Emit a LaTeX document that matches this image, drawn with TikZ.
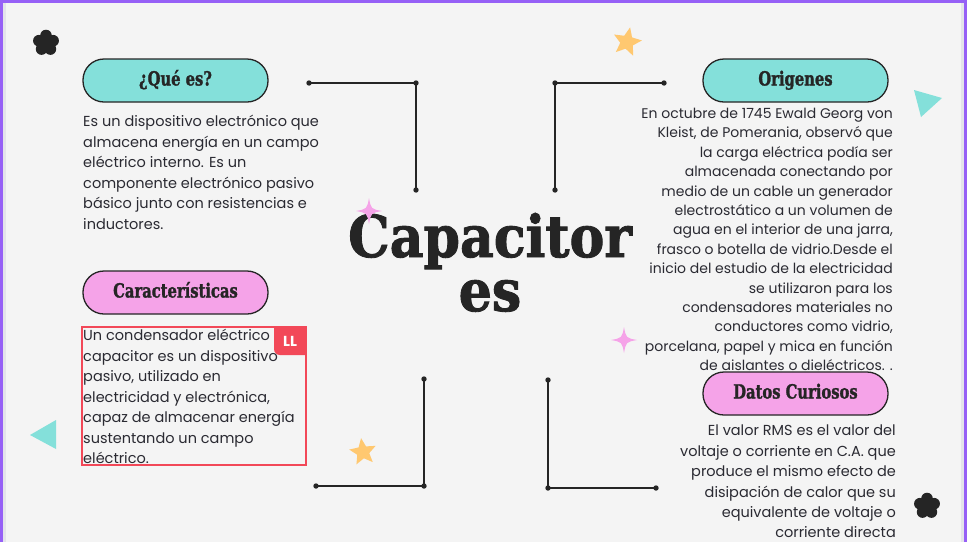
\documentclass[tikz,border=0pt]{standalone}
\usepackage{fontspec}
\setmainfont{Poppins}
\newfontfamily\headfont{DejaVu Serif Condensed}[BoldFeatures={FakeBold=1.5}]
\usetikzlibrary{positioning}
\usetikzlibrary{shapes.geometric}

\definecolor{paper}{RGB}{244,244,244}
\definecolor{frame}{RGB}{150,96,246}
\definecolor{edgegrey}{RGB}{228,228,234}
\definecolor{ink}{RGB}{37,37,37}
\definecolor{bodytext}{RGB}{42,42,50}
\definecolor{tealpill}{RGB}{132,224,218}
\definecolor{pinkpill}{RGB}{245,163,232}
\definecolor{starorange}{RGB}{255,200,112}
\definecolor{selred}{RGB}{242,72,88}

\newcommand{\pilltext}[1]{\scalebox{0.84}[1]{#1}}

\tikzset{
	pill/.style={draw=ink, line width=1.3pt, rounded corners=21pt, minimum width=185pt,
		minimum height=43pt, inner sep=0pt, text=ink, text height=14pt, text depth=4pt,
		font=\headfont\bfseries\fontsize{19.5}{19.5}\selectfont},
	bodyleft/.style={anchor=north west, inner sep=0pt, align=left, text=bodytext,
		font=\fontsize{14.5}{20.5}\selectfont},
	bodyright/.style={anchor=north east, inner sep=0pt, align=right, text=bodytext,
		font=\fontsize{14}{19.4}\selectfont},
	bracket/.style={draw=ink, line width=1.4pt},
	titletext/.style={text=ink, inner sep=0pt, anchor=base,
		font=\headfont\bfseries\fontsize{58}{58}\selectfont}
}

\begin{document}
\begin{tikzpicture}[x=1pt,y=-1pt]
\useasboundingbox (0,0) rectangle (967,542);
\fill[paper] (0,0) rectangle (967,542);
\fill[edgegrey] (3,3) rectangle (6,542);
\fill[edgegrey] (961,3) rectangle (964,542);
\fill[frame] (0,0) rectangle (967,3);
\fill[frame] (0,0) rectangle (3,542);
\fill[frame] (964,0) rectangle (967,542);

% title
\node[titletext] (title) at (490,257) {Capacitor};
\node[titletext] (titleB) at (490,311) {es};

% decorations
\foreach \x/\y in {46/43,927/506} {
	\begin{scope}[shift={(\x,\y)}]
		\fill[ink] (0,0) circle (5.5);
		\foreach \a in {-90,-18,54,126,198}
			\fill[ink] (\a:7.5) circle (5.8);
	\end{scope}
}
\node[star, star points=5, star point ratio=2.2, fill=starorange, minimum size=30pt,
	inner sep=0pt, rotate=-12] (starA) at (627,42) {};
\node[star, star points=5, star point ratio=2.2, fill=starorange, minimum size=28pt,
	inner sep=0pt, rotate=8] (starB) at (363,452) {};
\foreach \x/\y in {369/211,624/340} {
	\begin{scope}[shift={(\x,\y)}]
		\fill[pinkpill] (0,-13) .. controls (2,-2) .. (13,0) .. controls (2,2) .. (0,13)
			.. controls (-2,2) .. (-13,0) .. controls (-2,-2) .. (0,-13) -- cycle;
	\end{scope}
}
\fill[tealpill] (914,90) -- (942,98) -- (921,117) -- cycle;
\fill[tealpill] (30,435) -- (56,420) -- (56,449) -- cycle;

% brackets
\coordinate (tlA) at (309,83);
\coordinate (tlB) at (416,83);
\coordinate (tlC) at (416,190);
\coordinate (trA) at (664,83);
\coordinate (trB) at (555,83);
\coordinate (trC) at (555,190);
\coordinate (blA) at (424,379);
\coordinate (blB) at (424,486);
\coordinate (blC) at (316,486);
\coordinate (brA) at (548,380);
\coordinate (brB) at (548,488);
\coordinate (brC) at (656,488);
\draw[bracket] (tlA) -- (tlB) -- (tlC);
\draw[bracket] (trA) -- (trB) -- (trC);
\draw[bracket] (blA) -- (blB) -- (blC);
\draw[bracket] (brA) -- (brB) -- (brC);
\foreach \c in {tlA,tlB,tlC,trA,trB,trC,blA,blB,blC,brA,brB,brC}
	\fill[ink] (\c) circle (2.7);

% headings
\node[pill, fill=tealpill] (quees) at (175.5,80.5) {\pilltext{¿Qué es?}};
\node[pill, fill=tealpill] (origenes) at (795.5,80.5) {\pilltext{Origenes}};
\node[pill, fill=pinkpill] (caract) at (175.5,292.5) {\pilltext{Características}};
\node[pill, fill=pinkpill] (datos) at (795.5,393.5) {\pilltext{Datos Curiosos}};

% texts
\node[bodyleft] (queesText) at (83,115) {Es un dispositivo electrónico que\\
	almacena energía en un campo\\ eléctrico interno. Es un\\
	componente electrónico pasivo\\ básico junto con resistencias e\\ inductores.};
\node[bodyleft] (caractText) at (83,329) {Un condensador eléctrico\\
	capacitor es un dispositivo\\ pasivo, utilizado en\\
	electricidad y electrónica,\\ capaz de almacenar energía\\
	sustentando un campo\\ eléctrico.};
\node[bodyright] (origText) at (893,108) {En octubre de 1745 Ewald Georg von\\
	Kleist, de Pomerania, observó que\\ la carga eléctrica podía ser\\
	almacenada conectando por\\ medio de un cable un generador\\
	electrostático a un volumen de\\ agua en el interior de una jarra,\\
	frasco o botella de vidrio.Desde el\\ inicio del estudio de la electricidad\\
	se utilizaron para los\\ condensadores materiales no\\
	conductores como vidrio,\\ porcelana, papel y mica en función\\
	de aislantes o dieléctricos. .};
\node[bodyright, font=\fontsize{14.5}{20.4}\selectfont] (datosText) at (896,425)
	{El valor RMS es el valor del\\ voltaje o corriente en C.A. que\\
	produce el mismo efecto de\\ disipación de calor que su\\
	equivalente de voltaje o\\ corriente directa};

% selection mark
\draw[selred, line width=1.5pt] (82,327) rectangle (306,465);
\fill[selred] (306,327) -- (274,327) [rounded corners=6pt]-- (274,355)
	[sharp corners]-- (306,355) -- cycle;
\node[text=white, font=\bfseries\fontsize{14.5}{14.5}\selectfont] (selTag) at (290,341) {LL};
\end{tikzpicture}
\end{document}
